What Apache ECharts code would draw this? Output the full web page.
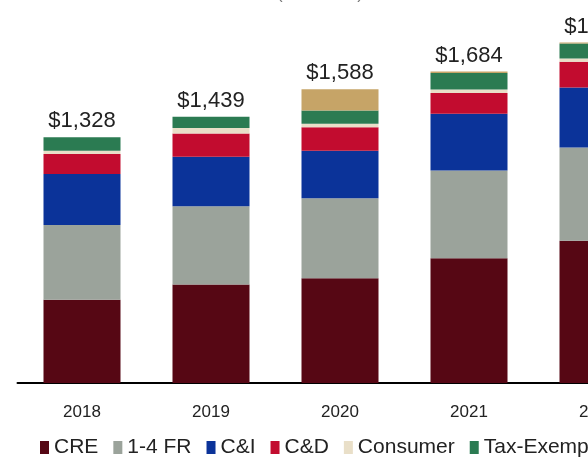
<!DOCTYPE html>
<html>
<head>
<meta charset="utf-8">
<script src="https://cdn.jsdelivr.net/npm/echarts@6/dist/echarts.min.js"></script>
<style>
  html, body { margin: 0; padding: 0; background: #fff; overflow: hidden; }
  #chart { width: 680px; height: 458px; }
</style>
</head>
<body>
<div id="chart"></div>
<script>
// 年份
const years = ['2018', '2019', '2020', '2021', '2022'];
// 各类贷款 (百万美元)
const cre = [450, 533, 566, 674, 769];
const fr14 = [404, 423, 433, 475, 504];
const ci = [276, 267, 256, 306, 324];
const cd = [108, 126, 128, 113, 139];
const consumer = [18, 30, 18, 18, 18];
const taxExempt = [72, 60, 72, 90, 81];
const ppp = [0, 0, 115, 8, 5];
const totals = [1328, 1439, 1588, 1684, 1840];

const seriesNames = ['CRE', '1-4 FR', 'C&I', 'C&D', 'Consumer', 'Tax-Exempt', 'PPP'];
const seriesData = [cre, fr14, ci, cd, consumer, taxExempt, ppp];
const colors = ['#560714', '#9ba39b', '#0b3399', '#c20c2f', '#e9dfc8', '#2b7b52', '#c6a467'];

const chart = echarts.init(document.getElementById('chart'));

const series = seriesNames.map((name, i) => ({
    name: name,
    type: 'bar',
    stack: 'total',
    barWidth: 77,
    data: seriesData[i],
    itemStyle: { color: colors[i] },
    emphasis: { disabled: true }
}));

// 顶部合计标签
series.push({
    name: 'Total',
    type: 'bar',
    stack: 'total',
    barWidth: 77,
    data: years.map(() => 0),
    itemStyle: { color: 'transparent' },
    label: {
        show: true,
        position: 'top',
        distance: 5,
        color: '#222',
        fontSize: 22,
        fontFamily: 'Liberation Sans',
        formatter: (p) => '$' + totals[p.dataIndex].toLocaleString('en-US')
    }
});

const option = {
    backgroundColor: '#fff',
    animation: false,
    title: {
        text: '(in millions)',
        left: 272,
        top: -19,
        textStyle: {
            color: '#777',
            fontSize: 17,
            fontWeight: 'normal',
            fontFamily: 'Liberation Sans'
        }
    },
    legend: {
        data: seriesNames,
        left: 35,
        top: 432,
        itemWidth: 9,
        itemHeight: 13,
        itemGap: 15,
        icon: 'rect',
        textStyle: {
            color: '#222',
            fontSize: 21,
            fontFamily: 'Liberation Sans'
        }
    },
    grid: {
        left: 17.5,
        right: 17.5,
        top: 13,
        bottom: 75
    },
    xAxis: {
        type: 'category',
        data: years,
        axisLine: { lineStyle: { color: '#000', width: 2 } },
        axisTick: { show: false },
        axisLabel: {
            margin: 21,
            color: '#222',
            fontSize: 17,
            fontFamily: 'Liberation Sans'
        }
    },
    yAxis: {
        type: 'value',
        min: 0,
        max: 2000,
        show: false,
        splitLine: { show: false }
    },
    series: series
};

chart.setOption(option);
</script>
</body>
</html>
